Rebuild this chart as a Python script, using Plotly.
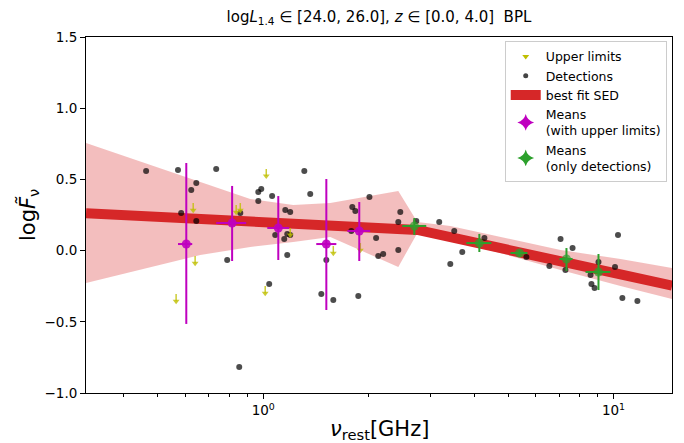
import plotly.graph_objects as go

# ---------------- data ----------------
det_nu = [0.463, 0.571, 0.734, 0.644, 0.623, 0.583, 0.644, 1.31, 0.968, 0.987,
          1.06, 0.968, 1.362, 0.860, 1.156, 1.194, 1.082, 1.171, 1.194, 1.148,
          1.171, 0.789, 1.040, 1.514, 1.465, 1.585, 1.868, 0.854, 2.01, 1.796,
          1.832, 2.462, 2.43, 2.10, 2.43, 2.20, 2.13, 1.784, 2.735, 3.18,
          3.51, 3.70, 3.42, 4.28, 5.64, 6.56, 7.06, 7.64, 7.29, 8.60,
          8.65, 8.83, 9.06, 10.1, 10.3, 10.6, 11.7]
det_logF = [0.559, 0.566, 0.573, 0.475, 0.426, 0.264, 0.208, 0.559, 0.412, 0.433,
            0.383, 0.348, 0.397, 0.264, 0.285, 0.271, 0.110, 0.117, 0.110, 0.081,
            -0.031, -0.066, -0.235, -0.066, -0.305, -0.347, -0.319, -0.817, 0.376, 0.306,
            0.278, 0.271, 0.201, 0.088, 0.004, -0.024, -0.038, 0.138, 0.208, 0.201,
            0.138, -0.010, -0.094, 0.088, -0.045, -0.108, 0.081, 0.018, -0.136, -0.171,
            -0.235, -0.263, -0.080, -0.115, 0.110, -0.333, -0.354]

ul_nu = [0.631, 0.639, 0.564, 1.02, 0.837, 0.860, 1.013, 1.585, 1.893, 1.194]
ul_logF = [0.334, -0.038, -0.305, 0.573, 0.320, 0.334, -0.249, 0.032, 0.053, 0.159]

mu_nu = [0.603, 0.815, 1.104, 1.514, 1.88]
mu_logF = [0.046, 0.194, 0.159, 0.046, 0.138]
mu_err_up = [0.569, 0.260, 0.224, 0.457, 0.203]
mu_err_dn = [0.561, 0.267, 0.225, 0.463, 0.211]
mu_nu_lo = [0.032, 0.081, 0.077, 0.097, 0.142]
mu_nu_hi = [0.024, 0.079, 0.082, 0.103, 0.140]

md_nu = [2.70, 4.14, 5.39, 7.34, 9.06]
md_logF = [0.173, 0.053, -0.017, -0.059, -0.150]
md_err_up = [0.056, 0.064, 0.021, 0.077, 0.126]
md_err_dn = [0.063, 0.063, 0.028, 0.084, 0.127]
md_nu_lo = [0.205, 0.34, 0.31, 0.33, 0.74]
md_nu_hi = [0.22, 0.34, 0.29, 0.30, 0.74]

sed_nu = [0.312, 2.754, 14.7]
sed_logF = [0.262, 0.145, -0.246]

band_nu = [0.312, 0.661, 0.918, 1.218, 1.554, 2.43, 2.754, 3.42, 4.75, 7.06, 10.47, 14.7]
band_hi = [0.756, 0.482, 0.362, 0.320, 0.334, 0.419, 0.201, 0.173, 0.096, 0.004, -0.059, -0.122]
band_lo = [-0.228, -0.031, 0.025, 0.060, 0.096, -0.115, 0.124, 0.074, -0.017, -0.136, -0.249, -0.340]

x_tickvals = [1, 10]
x_ticktext = ["10<sup>0</sup>", "10<sup>1</sup>"]
x_minor = [0.4, 0.5, 0.6, 0.7, 0.8, 0.9, 2, 3, 4, 5, 6, 7, 8, 9]
y_tickvals = [-1.0, -0.5, 0.0, 0.5, 1.0, 1.5]

# ---------------- styles ----------------
RED = "#d62728"
BAND = "rgba(214,39,40,0.3)"
DET = "rgba(0,0,0,0.7)"
UL = "rgba(191,191,0,0.8)"
MAG = "#bf00bf"
GRN = "#2ca02c"
ARROW_LEN = 0.05
FONT = "DejaVu Sans"

fig = go.Figure()

# uncertainty band
fig.add_trace(go.Scatter(x=band_nu + band_nu[::-1], y=band_hi + band_lo[::-1],
                         mode="lines", fill="toself", fillcolor=BAND,
                         line=dict(width=0), hoverinfo="skip", showlegend=False))

fig.add_trace(go.Scatter(x=sed_nu, y=sed_logF, mode="lines",
                         line=dict(color=RED, width=10), showlegend=False))

fig.add_trace(go.Scatter(x=det_nu, y=det_logF, mode="markers",
                         marker=dict(color=DET, size=6), showlegend=False))

# upper limit arrows
seg_x, seg_y = [], []
for xv, yv in zip(ul_nu, ul_logF):
    seg_x += [xv, xv, None]
    seg_y += [yv, yv - ARROW_LEN, None]
fig.add_trace(go.Scatter(x=seg_x, y=seg_y, mode="lines",
                         line=dict(color=UL, width=1.5), showlegend=False))
fig.add_trace(go.Scatter(x=ul_nu, y=[v - ARROW_LEN for v in ul_logF], mode="markers",
                         marker=dict(color=UL, size=6, symbol="triangle-down"),
                         showlegend=False))

fig.add_trace(go.Scatter(
    x=mu_nu, y=mu_logF, mode="markers",
    marker=dict(color=MAG, size=9, opacity=0.9),
    error_y=dict(type="data", symmetric=False, array=mu_err_up, arrayminus=mu_err_dn,
                 color=MAG, thickness=2, width=0),
    error_x=dict(type="data", symmetric=False, array=mu_nu_hi, arrayminus=mu_nu_lo,
                 color=MAG, thickness=2, width=0),
    showlegend=False))

fig.add_trace(go.Scatter(
    x=md_nu, y=md_logF, mode="markers",
    marker=dict(color=GRN, size=9, opacity=0.7),
    error_y=dict(type="data", symmetric=False, array=md_err_up, arrayminus=md_err_dn,
                 color=GRN, thickness=2, width=0),
    error_x=dict(type="data", symmetric=False, array=md_nu_hi, arrayminus=md_nu_lo,
                 color=GRN, thickness=2, width=0),
    showlegend=False))

# legend entries
fig.add_trace(go.Scatter(x=[None], y=[None], mode="markers", name="Upper limits",
                         marker=dict(color="#bfbf00", size=6, symbol="triangle-down")))
fig.add_trace(go.Scatter(x=[None], y=[None], mode="markers", name="Detections",
                         marker=dict(color="#444444", size=5)))
fig.add_trace(go.Scatter(x=[None], y=[None], mode="lines", name="best fit SED",
                         line=dict(color=RED, width=10)))
fig.add_trace(go.Scatter(x=[None], y=[None], mode="markers",
                         name="Means<br>(with upper limits)",
                         marker=dict(color=MAG, size=12, symbol="star-diamond")))
fig.add_trace(go.Scatter(x=[None], y=[None], mode="markers",
                         name="Means<br>(only detections)",
                         marker=dict(color=GRN, size=12, symbol="star-diamond")))

fig.update_layout(
    width=684, height=443,
    margin=dict(l=86, r=12, t=37, b=50),
    paper_bgcolor="white", plot_bgcolor="white",
    font=dict(family=FONT, size=13, color="black"),
    title=dict(text="log<i>L</i><sub>1.4</sub> ∈ [24.0, 26.0], <i>z</i> ∈ [0.0, 4.0]  BPL",
               x=0.554, xanchor="center", y=1 - 17 / 443, yanchor="middle",
               font=dict(size=15, family=FONT)),
    showlegend=True,
    legend=dict(x=0.991, y=0.989, xanchor="right", yanchor="top",
                bgcolor="rgba(255,255,255,0.8)", bordercolor="#cccccc", borderwidth=1,
                font=dict(size=12.5, family=FONT), tracegroupgap=0),
)

fig.update_xaxes(type="log", range=[-0.506, 1.167],
                 tickmode="array", tickvals=x_tickvals, ticktext=x_ticktext,
                 ticks="outside", ticklen=5, tickwidth=1, tickcolor="black",
                 minor=dict(tickmode="array", tickvals=x_minor, ticks="outside",
                            ticklen=3, tickwidth=0.8, tickcolor="black", showgrid=False),
                 showline=True, linecolor="black", linewidth=1, mirror=True,
                 showgrid=False, zeroline=False, tickfont=dict(size=13.5))
fig.update_yaxes(range=[-1.0, 1.5], tickmode="array", tickvals=y_tickvals,
                 tickformat=".1f",
                 ticks="outside", ticklen=5, tickwidth=1, tickcolor="black",
                 showline=True, linecolor="black", linewidth=1, mirror=True,
                 showgrid=False, zeroline=False, tickfont=dict(size=13.5))

fig.add_annotation(text="<i>ν</i><sub>rest</sub>[GHz]", xref="paper", yref="paper",
                   x=0.5, y=-0.104, xanchor="center", yanchor="middle",
                   showarrow=False, font=dict(size=21, family=FONT))
fig.add_annotation(text="log<i>F̃</i><sub>ν</sub>", xref="paper", yref="paper",
                   x=-0.099, y=0.5, xanchor="center", yanchor="middle", textangle=-90,
                   showarrow=False, font=dict(size=21, family=FONT))

fig.write_html("out.html", config={"displayModeBar": False},
               post_script="document.body.style.margin='0';document.body.style.overflow='hidden';")
